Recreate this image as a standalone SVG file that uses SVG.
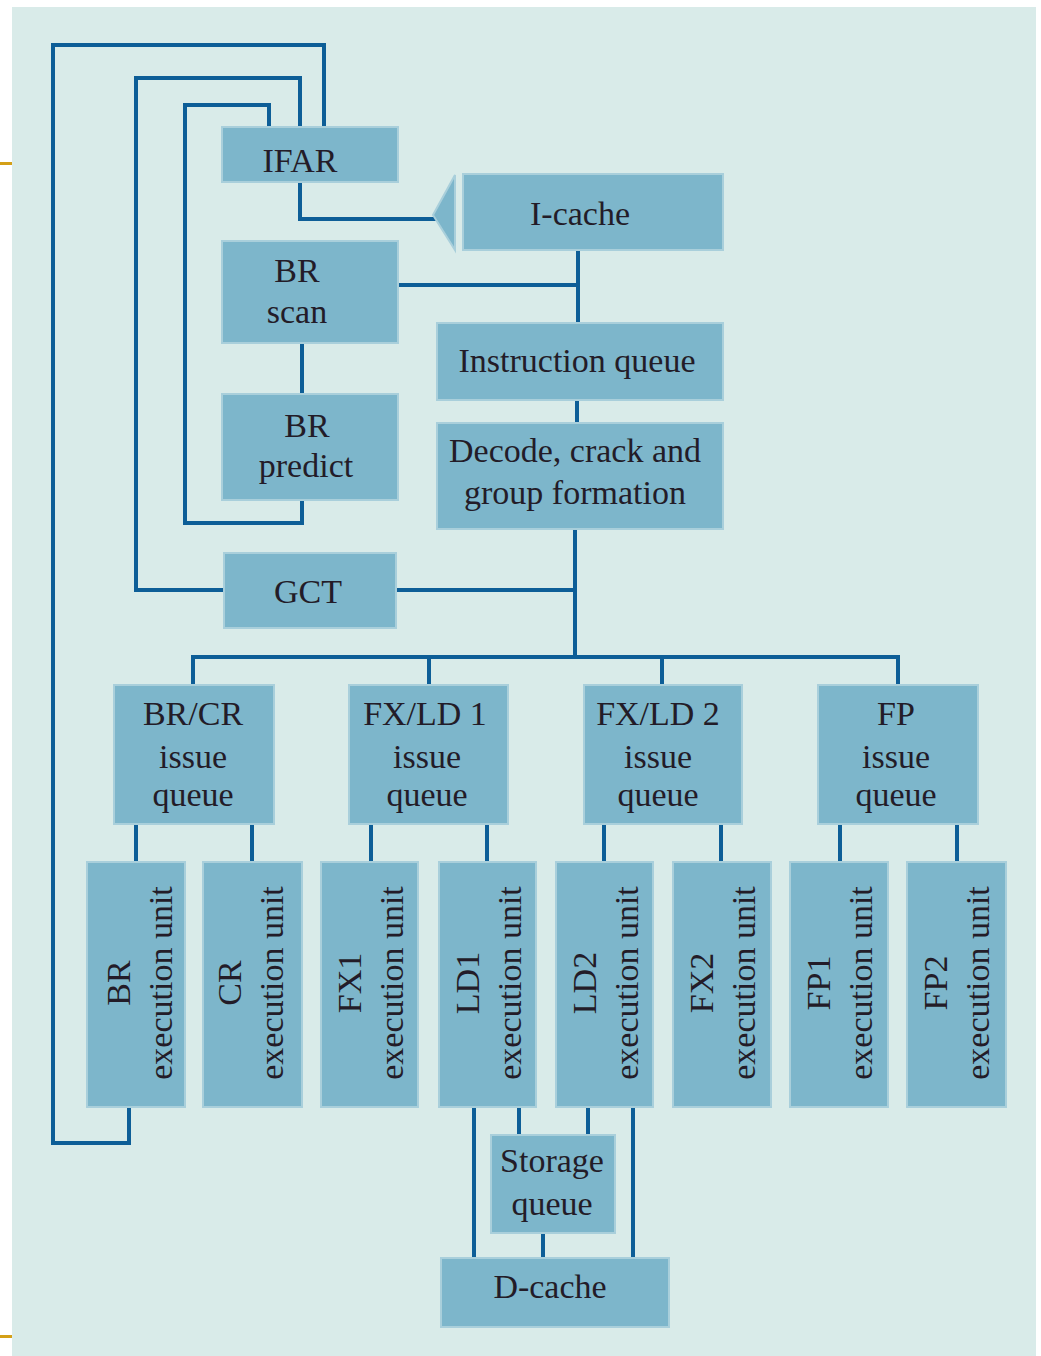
<svg xmlns="http://www.w3.org/2000/svg" width="1041" height="1356" viewBox="0 0 1041 1356">
<style>
.nd{fill:#7db6cb;stroke:#a9cfdb;stroke-width:2}
.t{font-family:"Liberation Serif","Times New Roman",serif;font-size:34px;fill:#231c28;text-anchor:middle}
.c{fill:none;stroke:#0d5e97;stroke-width:4;stroke-linejoin:miter;stroke-linecap:square}
</style>
<rect x="0" y="0" width="1041" height="1356" fill="#ffffff"/>
<rect x="12" y="7" width="1024" height="1349" fill="#d9ebe9"/>
<rect x="0" y="162" width="12" height="3" fill="#d4a017"/>
<rect x="0" y="1335" width="12" height="3" fill="#d4a017"/>

<g id="connectors">
<path class="c" d="M129,1108 V1143 H53 V45 H324 V127"/>
<path class="c" d="M224,590 H136 V78 H300 V127"/>
<path class="c" d="M302,501 V523 H185 V105 H269 V127"/>
<path class="c" d="M300,183 V219 H434"/>
<polygon points="433,215 455,175 455,250" fill="#7db6cb" stroke="#a9cfdb" stroke-width="2"/>
<path class="c" d="M578,251 V322"/>
<path class="c" d="M398,285 H578"/>
<path class="c" d="M302,344 V393"/>
<path class="c" d="M577,401 V422"/>
<path class="c" d="M575,530 V657"/>
<path class="c" d="M397,590 H575"/>
<path class="c" d="M193,684 V657 H898 V684"/>
<path class="c" d="M429,657 V684"/>
<path class="c" d="M662,657 V684"/>
<path class="c" d="M136,825 V861"/>
<path class="c" d="M252,825 V861"/>
<path class="c" d="M371,825 V861"/>
<path class="c" d="M487,825 V861"/>
<path class="c" d="M604,825 V861"/>
<path class="c" d="M721,825 V861"/>
<path class="c" d="M840,825 V861"/>
<path class="c" d="M957,825 V861"/>
<path class="c" d="M474,1108 V1257"/>
<path class="c" d="M519,1108 V1134"/>
<path class="c" d="M588,1108 V1134"/>
<path class="c" d="M633,1108 V1257"/>
<path class="c" d="M543,1234 V1257"/>
</g>

<g id="ifar"><rect class="nd" x="222" y="127" width="176" height="55"/><text class="t" x="300" y="172">IFAR</text></g>
<g id="icache"><rect class="nd" x="463" y="174" width="260" height="76"/><text class="t" x="580" y="225">I-cache</text></g>
<g id="brscan"><rect class="nd" x="222" y="241" width="176" height="102"/><text class="t" x="297" y="282">BR</text><text class="t" x="297" y="323">scan</text></g>
<g id="brpredict"><rect class="nd" x="222" y="394" width="176" height="106"/><text class="t" x="307" y="437">BR</text><text class="t" x="306" y="477">predict</text></g>
<g id="iqueue"><rect class="nd" x="437" y="323" width="286" height="77"/><text class="t" x="577" y="372">Instruction queue</text></g>
<g id="decode"><rect class="nd" x="437" y="423" width="286" height="106"/><text class="t" x="575" y="462">Decode, crack and</text><text class="t" x="575" y="504">group formation</text></g>
<g id="gct"><rect class="nd" x="224" y="553" width="172" height="75"/><text class="t" x="308" y="603">GCT</text></g>

<g id="brcr-q"><rect class="nd" x="114" y="685" width="160" height="139"/><text class="t" x="193" y="725">BR/CR</text><text class="t" x="193" y="768">issue</text><text class="t" x="193" y="806">queue</text></g>
<g id="fxld1-q"><rect class="nd" x="349" y="685" width="159" height="139"/><text class="t" x="425" y="725">FX/LD 1</text><text class="t" x="427" y="768">issue</text><text class="t" x="427" y="806">queue</text></g>
<g id="fxld2-q"><rect class="nd" x="584" y="685" width="158" height="139"/><text class="t" x="658" y="725">FX/LD 2</text><text class="t" x="658" y="768">issue</text><text class="t" x="658" y="806">queue</text></g>
<g id="fp-q"><rect class="nd" x="818" y="685" width="160" height="139"/><text class="t" x="896" y="725">FP</text><text class="t" x="896" y="768">issue</text><text class="t" x="896" y="806">queue</text></g>

<g id="br-eu"><rect class="nd" x="87" y="862" width="98" height="245"/><g transform="translate(136,983) rotate(-90)"><text class="t" x="0" y="-6">BR</text><text class="t" x="0" y="36">execution unit</text></g></g>
<g id="cr-eu"><rect class="nd" x="203" y="862" width="99" height="245"/><g transform="translate(252,983) rotate(-90)"><text class="t" x="0" y="-11">CR</text><text class="t" x="0" y="31">execution unit</text></g></g>
<g id="fx1-eu"><rect class="nd" x="321" y="862" width="97" height="245"/><g transform="translate(370,983) rotate(-90)"><text class="t" x="0" y="-9">FX1</text><text class="t" x="0" y="33">execution unit</text></g></g>
<g id="ld1-eu"><rect class="nd" x="439" y="862" width="97" height="245"/><g transform="translate(488,983) rotate(-90)"><text class="t" x="0" y="-9">LD1</text><text class="t" x="0" y="33">execution unit</text></g></g>
<g id="ld2-eu"><rect class="nd" x="556" y="862" width="97" height="245"/><g transform="translate(605,983) rotate(-90)"><text class="t" x="0" y="-9">LD2</text><text class="t" x="0" y="33">execution unit</text></g></g>
<g id="fx2-eu"><rect class="nd" x="673" y="862" width="98" height="245"/><g transform="translate(722,983) rotate(-90)"><text class="t" x="0" y="-9">FX2</text><text class="t" x="0" y="33">execution unit</text></g></g>
<g id="fp1-eu"><rect class="nd" x="790" y="862" width="98" height="245"/><g transform="translate(839,983) rotate(-90)"><text class="t" x="0" y="-9">FP1</text><text class="t" x="0" y="33">execution unit</text></g></g>
<g id="fp2-eu"><rect class="nd" x="907" y="862" width="99" height="245"/><g transform="translate(956,983) rotate(-90)"><text class="t" x="0" y="-9">FP2</text><text class="t" x="0" y="33">execution unit</text></g></g>

<g id="storage-q"><rect class="nd" x="491" y="1135" width="124" height="98"/><text class="t" x="552" y="1172">Storage</text><text class="t" x="552" y="1215">queue</text></g>
<g id="dcache"><rect class="nd" x="441" y="1258" width="228" height="69"/><text class="t" x="550" y="1298">D-cache</text></g>
</svg>
